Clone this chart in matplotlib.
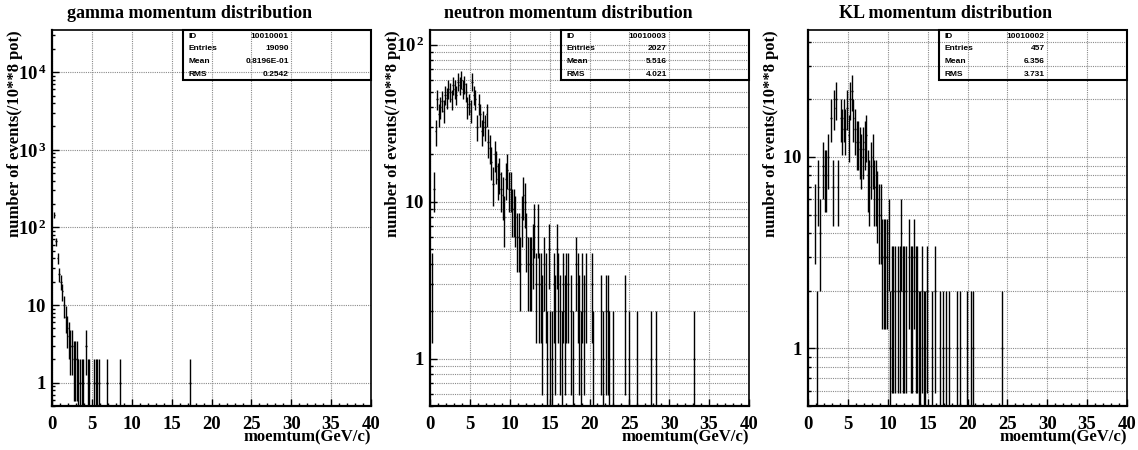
import numpy as np
import matplotlib.pyplot as plt
from matplotlib.patches import Rectangle
from matplotlib.ticker import FixedLocator, LogLocator, FuncFormatter, MultipleLocator, NullFormatter

plt.rcParams['font.family'] = 'Liberation Serif'
plt.rcParams['font.weight'] = 'bold'
plt.rcParams['mathtext.fontset'] = 'custom'
plt.rcParams['mathtext.rm'] = 'Liberation Serif:bold'
plt.rcParams['mathtext.bf'] = 'Liberation Serif:bold'
plt.rcParams['mathtext.it'] = 'Liberation Serif:bold:italic'

# bin centres (GeV, 0.2 GeV bins) and raw counts, errors are sqrt(N)
gamma_p = [0.3, 0.5, 0.7, 0.9, 1.1, 1.3, 1.5, 1.7, 1.9, 2.1, 2.3, 2.5, 2.7, 2.9, 3.1,
           3.3, 3.5, 3.7, 3.9, 4.3, 4.5, 4.7, 5.3, 5.5, 5.7, 5.9, 6.9, 8.5, 17.3]
gamma_n = [145, 66, 40, 25, 20, 15, 10, 7, 5, 4, 3, 3, 2, 2, 2,
           1, 1, 1, 1, 3, 1, 1, 1, 1, 1, 1, 1, 1, 1]

neutron_p = [0.3, 0.5, 0.7, 0.9, 1.1, 1.3, 1.5, 1.7, 1.9, 2.1, 2.3, 2.5, 2.7, 2.9, 3.1,
             3.3, 3.5, 3.7, 3.9, 4.1, 4.3, 4.5, 4.7, 4.9, 5.1, 5.3, 5.5, 5.7, 5.9, 6.1,
             6.3, 6.5, 6.7, 6.9, 7.1, 7.3, 7.5, 7.7, 7.9, 8.1, 8.3, 8.5, 8.7, 8.9, 9.1,
             9.3, 9.5, 9.7, 9.9, 10.1, 10.3, 10.5, 10.7, 10.9, 11.1, 11.3, 11.5, 11.7, 11.9, 12.1,
             12.3, 12.5, 12.7, 12.9, 13.1, 13.3, 13.5, 13.7, 13.9, 14.1, 14.3, 14.5, 14.7, 14.9, 15.1,
             15.3, 15.5, 15.7, 15.9, 16.1, 16.3, 16.5, 16.7, 16.9, 17.1, 17.3, 17.7, 17.9, 18.3, 18.5,
             18.7, 18.9, 19.1, 19.3, 19.5, 20.3, 20.5, 21.5, 21.7, 22.1, 22.3, 22.5, 22.9, 24.5, 24.9,
             25.9, 27.7, 28.3, 33.1]
neutron_n = [3, 12, 28, 45, 36, 40, 44, 38, 48, 46, 52, 50, 45, 55, 52,
             48, 58, 55, 60, 52, 56, 50, 40, 42, 38, 58, 48, 45, 30, 42,
             36, 28, 32, 30, 36, 24, 22, 18, 13, 20, 17, 14, 15, 12, 11,
             8, 14, 16, 12, 12, 9, 9, 8, 6, 6, 4, 8, 11, 10, 6,
             4, 4, 4, 5, 7, 3, 7, 3, 3, 2, 4, 3, 1, 5, 1,
             1, 3, 2, 5, 3, 2, 1, 3, 2, 3, 3, 2, 1, 4, 3,
             2, 1, 3, 2, 3, 3, 1, 2, 1, 2, 2, 1, 1, 2, 1,
             1, 1, 1, 1]

kl_p = [0.9, 1.1, 1.3, 1.5, 1.9, 2.1, 2.3, 2.5, 2.9, 3.1, 3.3, 3.5, 3.7, 4.1, 4.3,
        4.5, 4.7, 4.9, 5.1, 5.3, 5.5, 5.7, 5.9, 6.1, 6.3, 6.5, 6.7, 6.9, 7.1, 7.3,
        7.5, 7.7, 7.9, 8.1, 8.3, 8.5, 8.7, 8.9, 9.1, 9.3, 9.5, 9.7, 9.9, 10.1, 10.3,
        10.5, 10.7, 10.9, 11.3, 11.5, 11.7, 11.9, 12.1, 12.3, 12.7, 12.9, 13.1, 13.3, 13.5, 13.7,
        13.9, 14.1, 14.3, 14.5, 14.7, 14.9, 15.5, 15.9, 16.5, 16.9, 17.3, 17.7, 18.7, 19.1, 19.9,
        20.5, 20.7, 24.3]
kl_n = [5, 1, 7, 4, 9, 8, 8, 10, 16, 7, 18, 20, 7, 16, 14,
        16, 14, 18, 13, 20, 22, 16, 14, 12, 12, 11, 10, 11, 12, 13,
        8, 7, 9, 10, 7, 7, 6, 5, 5, 3, 3, 3, 3, 4, 1,
        2, 2, 2, 2, 2, 4, 2, 2, 2, 3, 2, 2, 3, 2, 2,
        1, 1, 2, 1, 1, 2, 1, 2, 1, 1, 1, 1, 1, 1, 1,
        1, 1, 1]

titles = ["gamma momentum distribution", "neutron momentum distribution", "KL momentum distribution"]
stat_ids = ["10010001", "10010003", "10010002"]
stat_entries = ["19090", "2027", "457"]
stat_means = ["0.8196E-01", "5.516", "6.356"]
stat_rms = ["0.2542", "4.021", "3.731"]
ytops = [3.5e4, 124, 46]
ymajors = [[1, 10, 100, 1000, 10000], [1, 10, 100], [1, 10]]
minor_grid = [False, True, True]

data = [(gamma_p, gamma_n), (neutron_p, neutron_n), (kl_p, kl_n)]

W, H = 1138, 450
fig = plt.figure(figsize=(W / 100, H / 100), dpi=100)

lefts = [52, 430, 808]
ax_w, ax_top, ax_bot = 319, 30, 406


def ylab(v, pos):
    e = int(round(np.log10(v)))
    if e == 0:
        return r"$1\ \,$"
    if e == 1:
        return r"$10\ \,$"
    return r"$10^{\,%d}$" % e


for i in range(3):
    ax = fig.add_axes([lefts[i] / W, 1 - ax_bot / H, ax_w / W, (ax_bot - ax_top) / H])
    p = np.array(data[i][0])
    n = np.array(data[i][1], dtype=float)
    err = np.sqrt(n)
    lo = np.maximum(n - err, 1e-3)
    ax.vlines(p, lo, n + err, color='black', lw=1.0)
    ax.hlines(n, p - 0.1, p + 0.1, color='black', lw=1.0)

    ax.set_yscale('log')
    ax.set_xlim(0, 40)
    ax.set_ylim(0.5, ytops[i])

    ax.xaxis.set_major_locator(MultipleLocator(5))
    ax.xaxis.set_minor_locator(MultipleLocator(1))
    ax.yaxis.set_major_locator(FixedLocator(ymajors[i]))
    ax.yaxis.set_minor_locator(LogLocator(base=10, subs=np.arange(2, 10)))
    ax.yaxis.set_minor_formatter(NullFormatter())
    ax.yaxis.set_major_formatter(FuncFormatter(ylab))

    ax.tick_params(axis='both', which='both', direction='in', top=False, right=False, width=1.0)
    ax.tick_params(axis='x', which='major', length=5, pad=7, labelsize=13.5)
    ax.tick_params(axis='x', which='minor', length=2.5)
    ax.tick_params(axis='y', which='major', length=5, pad=4, labelsize=13.5)
    ax.tick_params(axis='y', which='minor', length=2.5)

    ax.grid(True, which='major', axis='both', ls=(0, (1, 1)), color='#8a8a8a', lw=0.8)
    if minor_grid[i]:
        ax.grid(True, which='minor', axis='y', ls=(0, (1, 1)), color='#8a8a8a', lw=0.8)
    ax.set_axisbelow(True)
    for name, s in ax.spines.items():
        s.set_linewidth(1.6 if name in ('left', 'bottom') else 1.2)

    ax.text((190 - 52) / ax_w, 1 + 17 / 376, titles[i],
            transform=ax.transAxes, ha='center', va='center', fontsize=13, fontweight='bold')
    ax.text(1.0, -31 / 376, "moemtum(GeV/c)", transform=ax.transAxes,
            ha='right', va='center', fontsize=12, fontweight='bold')
    fig.text((lefts[i] - 37) / W, 1 - 30 / H, "number of events(/10**8 pot)", rotation=90,
             ha='center', va='top', fontsize=12, fontweight='bold')

    # statistics box
    bx = 0.41
    ax.add_patch(Rectangle((bx, 1 - 50 / 376), 1 - bx, 50 / 376, transform=ax.transAxes,
                           fill=False, lw=1.5, edgecolor='black', clip_on=False, zorder=5))
    rows = [("ID", stat_ids[i]), ("Entries", stat_entries[i]),
            ("Mean", stat_means[i]), ("RMS", stat_rms[i])]
    for k, (lab, val) in enumerate(rows):
        yy = 1 - (6 + 12.7 * k) / 376
        ax.text(bx + 6 / ax_w, yy, lab, transform=ax.transAxes, ha='left', va='center',
                fontsize=6, fontweight='bold', family='Liberation Sans', zorder=6)
        ax.text(bx + 106 / ax_w, yy, val, transform=ax.transAxes, ha='right', va='center',
                fontsize=6, fontweight='bold', family='Liberation Sans', zorder=6)

fig.savefig("out.png", dpi=100)
